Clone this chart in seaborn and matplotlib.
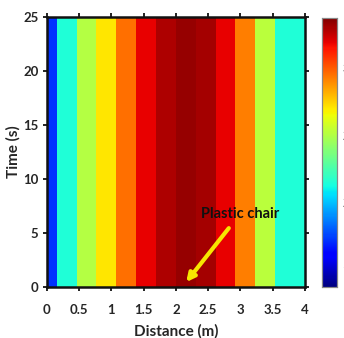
import numpy as np
import pandas as pd
import matplotlib
matplotlib.use("Agg")
import matplotlib.pyplot as plt
import seaborn as sns

# ---- data ----
distance = np.linspace(0, 4, 14)   # measurement positions (m)
signal = [1.72, 2.15, 2.51, 2.70, 2.95, 3.19, 3.29, 3.33, 3.30, 3.19, 2.92, 2.52, 2.15, 2.15]
time_range = [0, 25]
x_ticks = [0, 0.5, 1, 1.5, 2, 2.5, 3, 3.5, 4]
x_tick_labels = ["0", "0.5", "1", "1.5", "2", "2.5", "3", "3.5", "4"]
y_ticks = [0, 5, 10, 15, 20, 25]
cbar_ticks = [1.5, 2, 2.5, 3]
vmin, vmax = 1.37, 3.37
annot_text = "Plastic chair"
annot_text_pos = (3.0, 6.8)
annot_arrow_start = (2.82, 5.45)
annot_arrow_end = (2.16, 0.45)

sns.set_style("white")
plt.rcParams["font.family"] = ["Lato", "DejaVu Sans"]
plt.rcParams["font.weight"] = "bold"
TXT = "#262626"

W, H = 344, 338
fig = plt.figure(figsize=(W / 100, H / 100), dpi=100)
ax = fig.add_axes([46.7 / W, (H - 287) / H, 258.3 / W, 270 / H])
cax = fig.add_axes([322 / W, (H - 287) / H, 15 / W, 269 / H])

n = len(distance)
df = pd.DataFrame([signal], columns=[f"{d:.3f}" for d in distance])
sns.heatmap(df, ax=ax, cmap="jet", vmin=vmin, vmax=vmax, cbar=True, cbar_ax=cax,
            xticklabels=False, yticklabels=False)

# map physical coordinates onto heatmap cell coordinates
step = (distance[-1] - distance[0]) / (n - 1)
def mx(d):
    return 0.5 + (d - distance[0]) / step
def my(t):
    return (t - time_range[0]) / (time_range[1] - time_range[0])

ax.set_xlim(mx(0), mx(4))
ax.set_ylim(my(time_range[0]), my(time_range[1]))
ax.set_xticks([mx(v) for v in x_ticks])
ax.set_xticklabels(x_tick_labels, fontsize=9.5, fontweight="bold", color=TXT)
ax.set_yticks([my(v) for v in y_ticks])
ax.set_yticklabels([str(v) for v in y_ticks], fontsize=9.5, fontweight="bold", color=TXT,
                   rotation=0)
ax.tick_params(axis="both", which="both", direction="out", length=3, width=1.3,
               colors="#111111", labelcolor=TXT, top=True, right=True,
               bottom=True, left=True)
ax.tick_params(axis="x", pad=9)
ax.tick_params(axis="y", pad=3)
for s in ax.spines.values():
    s.set_visible(True)
    s.set_color("#111111")
    s.set_linewidth(1.8)

ax.set_xlabel("Distance (m)", fontsize=11, fontweight="bold", color=TXT, labelpad=6)
ax.set_ylabel("Time (s)", fontsize=11, fontweight="bold", color=TXT, labelpad=2)

# annotation
ax.text(mx(annot_text_pos[0]), my(annot_text_pos[1]), annot_text, fontsize=10.5,
        fontweight="bold", color="#111111", ha="center", va="center")
ax.annotate("", xy=(mx(annot_arrow_end[0]), my(annot_arrow_end[1])),
            xytext=(mx(annot_arrow_start[0]), my(annot_arrow_start[1])),
            arrowprops=dict(arrowstyle="-|>", color="#F7E600", lw=3, mutation_scale=12,
                            shrinkA=0, shrinkB=0))

# colorbar
cax.set_yticks(cbar_ticks)
cax.set_yticklabels([f"{v:g}" for v in cbar_ticks], fontsize=9.5, fontweight="bold", color=TXT)
cax.tick_params(length=0, pad=4)
for s in cax.spines.values():
    s.set_visible(True)
    s.set_color("#888888")
    s.set_linewidth(0.8)

fig.savefig("out.png", dpi=100)
